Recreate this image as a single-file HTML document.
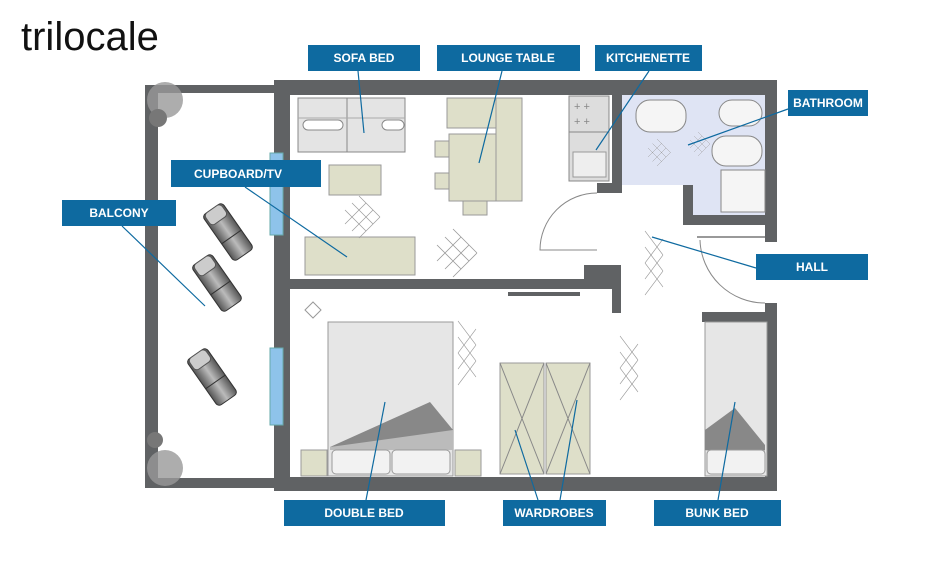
<!DOCTYPE html>
<html><head><meta charset="utf-8"><style>
html,body{margin:0;padding:0;background:#fff;width:940px;height:563px;overflow:hidden}
svg{display:block}
.l{font-family:"Liberation Sans",sans-serif;font-weight:bold;font-size:12px;fill:#fff}
</style></head><body>
<svg width="940" height="563" viewBox="0 0 940 563" xmlns="http://www.w3.org/2000/svg">
<defs>
<linearGradient id="cg" x1="0" x2="1"><stop offset="0" stop-color="#555"/><stop offset=".5" stop-color="#bbb"/><stop offset="1" stop-color="#555"/></linearGradient>
<g id="chair"><rect x="-12" y="-28" width="24" height="56" rx="4" fill="url(#cg)" stroke="#333"/><rect x="-10" y="-28" width="20" height="14" rx="4" fill="#ccc" stroke="#555"/><line x1="-12" y1="6" x2="12" y2="6" stroke="#333"/></g>
<g id="x"><path d="M0 0l30 30M10 -10l30 30M20 -20l30 30M0 20l30 -30M10 30l30 -30M20 40l30 -30" stroke="#999" stroke-width="1" fill="none"/></g>
<g id="xv"><path d="M0 10l30 30M0 -10l30 30M0 -30l30 30M0 10l30 -30M0 30l30 -30M0 50l30 -30" stroke="#999" stroke-width="1" fill="none"/></g>
</defs>
<text x="21" y="50" font-family="Liberation Sans,sans-serif" font-size="40" fill="#111">trilocale</text>

<path d="M622 95H765V215H693V185H622Z" fill="#dfe4f4"/>
<g fill="#606264">
<rect x="145" y="85" width="130" height="8"/>
<rect x="145" y="85" width="13" height="403"/>
<rect x="145" y="478" width="140" height="10"/>
<rect x="274" y="80" width="503" height="15"/>
<rect x="274" y="80" width="16" height="410"/>
<rect x="274" y="477" width="503" height="14"/>
<rect x="765" y="80" width="12" height="162"/>
<rect x="765" y="303" width="12" height="188"/>
<rect x="274" y="279" width="310" height="10"/>
<rect x="584" y="265" width="36" height="24"/>
<rect x="612" y="95" width="10" height="98"/>
<rect x="597" y="183" width="25" height="10"/>
<rect x="612" y="265" width="9" height="48"/>
<rect x="683" y="185" width="10" height="40"/>
<rect x="683" y="215" width="82" height="10"/>
<rect x="702" y="312" width="65" height="10"/>
<rect x="508" y="292" width="72" height="4"/>
</g>
<rect x="270" y="153" width="13" height="82" fill="#8ec3ea" stroke="#6aa"/>
<rect x="270" y="348" width="13" height="77" fill="#8ec3ea" stroke="#6aa"/>
<path d="M597 193A57 57 0 0 0 540 250H597" fill="none" stroke="#888"/>
<path d="M700 240A65 65 0 0 0 765 303" fill="none" stroke="#888"/>
<path d="M697 237H765" stroke="#999" stroke-width="2"/>
<circle cx="165" cy="100" r="18" fill="#999" opacity=".8"/><circle cx="158" cy="118" r="9" fill="#777"/>
<circle cx="165" cy="468" r="18" fill="#999" opacity=".8"/><circle cx="155" cy="440" r="8" fill="#777"/>
<use href="#chair" transform="translate(228,232) rotate(-35)"/>
<use href="#chair" transform="translate(217,283) rotate(-35)"/>
<use href="#chair" transform="translate(212,377) rotate(-35)"/>
<rect x="298" y="98" width="107" height="54" fill="#e4e4e4" stroke="#888"/>
<line x1="347" y1="98" x2="347" y2="152" stroke="#888"/><line x1="298" y1="118" x2="405" y2="118" stroke="#aaa"/>
<rect x="303" y="120" width="40" height="10" rx="5" fill="#fff" stroke="#888"/>
<rect x="382" y="120" width="22" height="10" rx="5" fill="#fff" stroke="#888"/>
<g fill="#dedfc9" stroke="#999">
<rect x="329" y="165" width="52" height="30"/>
<rect x="305" y="237" width="110" height="38"/>
<rect x="447" y="98" width="75" height="30"/>
<rect x="496" y="98" width="26" height="103"/>
<rect x="449" y="134" width="47" height="67"/>
<rect x="435" y="141" width="14" height="16"/><rect x="435" y="173" width="14" height="16"/>
<rect x="463" y="201" width="24" height="14"/>
<rect x="705" y="322" width="62" height="154" fill="#e6e6e6"/>
<rect x="328" y="322" width="125" height="154" fill="#e6e6e6"/>
<rect x="301" y="450" width="26" height="26"/><rect x="455" y="450" width="26" height="26"/>
<rect x="500" y="363" width="44" height="111"/><rect x="546" y="363" width="44" height="111"/>
</g>
<path d="M500 363L544 474M544 363L500 474M546 363L590 474M590 363L546 474" stroke="#888"/>
<path d="M330 447L430 402L453 430V450H330Z" fill="#888"/>
<path d="M330 447L453 430V450H330Z" fill="#bbb"/>
<rect x="332" y="450" width="58" height="24" rx="4" fill="#f2f2f2" stroke="#999"/><rect x="392" y="450" width="58" height="24" rx="4" fill="#f2f2f2" stroke="#999"/>
<path d="M705 430L735 408L765 445V466L705 450Z" fill="#888"/>
<path d="M705 450L765 466V450H705Z" fill="#bbb"/>
<rect x="707" y="450" width="58" height="24" rx="4" fill="#f2f2f2" stroke="#999"/>
<rect x="569" y="96" width="40" height="85" fill="#ddd" stroke="#888"/>
<line x1="569" y1="132" x2="609" y2="132" stroke="#888"/>
<rect x="573" y="152" width="33" height="25" fill="#eee" stroke="#999"/>
<text x="574" y="110" font-size="11" fill="#888" font-family="Liberation Sans,sans-serif">+ +</text>
<text x="574" y="125" font-size="11" fill="#888" font-family="Liberation Sans,sans-serif">+ +</text>
<rect x="636" y="100" width="50" height="32" rx="14" fill="#f5f5f5" stroke="#888"/>
<rect x="719" y="100" width="43" height="26" rx="13" fill="#f5f5f5" stroke="#888"/>
<rect x="712" y="136" width="50" height="30" rx="14" fill="#f5f5f5" stroke="#888"/>
<rect x="721" y="170" width="44" height="42" fill="#f5f5f5" stroke="#888"/>
<use href="#x" transform="translate(345,210) scale(.7)"/>
<use href="#x" transform="translate(437,245) scale(.8)"/>
<use href="#xv" transform="translate(458,345) scale(.6,.8)"/>
<use href="#xv" transform="translate(620,360) scale(.6,.8)"/>
<use href="#xv" transform="translate(645,255) scale(.6,.8)"/>
<use href="#x" transform="translate(648,148) scale(.45)"/>
<use href="#x" transform="translate(690,140) scale(.4)"/>
<path d="M305 310l8-8 8 8-8 8z" fill="none" stroke="#999"/>
<g stroke="#0e6aa0" stroke-width="1.2">
<line x1="358" y1="71" x2="364" y2="133"/><line x1="502" y1="71" x2="479" y2="163"/>
<line x1="649" y1="71" x2="596" y2="150"/><line x1="788" y1="109" x2="688" y2="145"/>
<line x1="245" y1="187" x2="347" y2="257"/><line x1="122" y1="226" x2="205" y2="306"/>
<line x1="756" y1="268" x2="652" y2="237"/><line x1="366" y1="500" x2="385" y2="402"/>
<line x1="538" y1="500" x2="515" y2="430"/><line x1="560" y1="500" x2="577" y2="400"/>
<line x1="718" y1="500" x2="735" y2="402"/>
</g>
<g fill="#0e6aa0">
<rect x="308" y="45" width="112" height="26"/><rect x="437" y="45" width="143" height="26"/>
<rect x="595" y="45" width="107" height="26"/><rect x="788" y="90" width="80" height="26"/>
<rect x="171" y="160" width="150" height="27"/><rect x="62" y="200" width="114" height="26"/>
<rect x="756" y="254" width="112" height="26"/><rect x="284" y="500" width="161" height="26"/>
<rect x="503" y="500" width="103" height="26"/><rect x="654" y="500" width="127" height="26"/>
</g>
<g class="l" text-anchor="middle">
<text x="364" y="62">SOFA BED</text><text x="508" y="62">LOUNGE TABLE</text>
<text x="648" y="62">KITCHENETTE</text><text x="828" y="107">BATHROOM</text>
<text x="238" y="178">CUPBOARD/TV</text><text x="119" y="217">BALCONY</text>
<text x="812" y="271">HALL</text><text x="364" y="517">DOUBLE BED</text>
<text x="554" y="517">WARDROBES</text><text x="717" y="517">BUNK BED</text>
</g>
</svg>
</body></html>
